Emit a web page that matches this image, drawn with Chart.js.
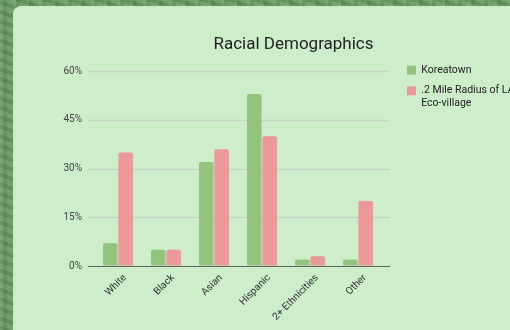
<!DOCTYPE html>
<html>
<head>
<meta charset="utf-8">
<script src="https://cdn.jsdelivr.net/npm/chart.js@4"></script>
<style>
  html, body { margin: 0; padding: 0; width: 510px; height: 330px; overflow: hidden; }
  body {
    position: relative;
    background:
      repeating-linear-gradient(90deg, rgba(255,255,255,0.06) 0 3px, rgba(0,0,0,0.07) 3px 7px, rgba(255,255,255,0) 7px 13px),
      repeating-linear-gradient(20deg, rgba(0,0,0,0.08) 0 4px, rgba(255,255,255,0.05) 4px 9px),
      #6b9c67;
  }
  #panel {
    position: absolute; left: 13px; top: 6px; width: 620px; height: 420px;
    background: #cdedcb; border-radius: 8px;
  }
  #graph1 { position: absolute; left: 0; top: 0; }
</style>
</head>
<body>
<div id="panel"></div>
<canvas id="graph1" width="560" height="330"></canvas>
<script>
const categories = ["White", "Black", "Asian", "Hispanic", "2+ Ethnicities", "Other"];
const seriesNames = ["Koreatown", ".2 Mile Radius of LA Eco-village"];
const koreatown = [7, 5, 32, 53, 2, 2];
const ecoVillage = [35, 5, 36, 40, 3, 20];
const yTicks = [0, 15, 30, 45, 60];
const legendLines = [["Koreatown"], [".2 Mile Radius of LA", "Eco-village"]];

// grid lines run a little past the plot on both sides, like the original
const gridLines = {
    id: "gridLines",
    beforeDatasetsDraw(chart) {
        const ctx = chart.ctx, y = chart.scales.y, a = chart.chartArea;
        ctx.save();
        yTicks.forEach(v => {
            const py = Math.round(y.getPixelForValue(v)) + 0.5;
            ctx.beginPath();
            ctx.strokeStyle = v === 0 ? "#5f655e" : "#c9d3c5";
            ctx.lineWidth = v === 0 ? 1.2 : 1.5;
            ctx.moveTo(a.left - 6, py);
            ctx.lineTo(a.right + 8, py);
            ctx.stroke();
        });
        ctx.restore();
    }
};

Chart.defaults.font.family = "Roboto";

new Chart(document.getElementById("graph1"), {
    type: "bar",
    data: {
        labels: categories,
        datasets: [
            {
                label: seriesNames[0],
                backgroundColor: "#93c47d",
                data: koreatown,
                borderRadius: 2,
                barPercentage: 0.95,
                categoryPercentage: 0.64
            },
            {
                label: seriesNames[1],
                backgroundColor: "#ea9999",
                data: ecoVillage,
                borderRadius: 2,
                barPercentage: 0.95,
                categoryPercentage: 0.64
            }
        ]
    },
    options: {
        responsive: false,
        animation: false,
        layout: { padding: { left: 63, right: 36, top: 0, bottom: 0 } },
        plugins: {
            title: {
                display: true,
                text: "Racial Demographics",
                color: "#222",
                font: { size: 17, weight: "normal" },
                padding: { top: 34.6, bottom: 0 }
            },
            legend: {
                position: "right",
                align: "start",
                fullSize: false,
                maxWidth: 127,
                labels: {
                    boxWidth: 9,
                    boxHeight: 9,
                    padding: 10,
                    color: "#222",
                    font: { size: 10.5, lineHeight: 1.24 },
                    generateLabels(chart) {
                        const items = Chart.defaults.plugins.legend.labels.generateLabels(chart);
                        items.forEach((it, i) => {
                            it.text = legendLines[i].length > 1 ? legendLines[i] : legendLines[i][0];
                            it.lineWidth = 0;
                        });
                        return items;
                    }
                }
            },
            tooltip: { enabled: false }
        },
        scales: {
            x: {
                grid: { display: false, drawTicks: false },
                border: { display: false },
                ticks: {
                    autoSkip: false,
                    maxRotation: 45,
                    minRotation: 45,
                    padding: 6,
                    labelOffset: 7,
                    color: "#333",
                    font: { size: 10 }
                },
                afterFit(s) { s.height = 64; }
            },
            y: {
                min: 0,
                max: 65,
                grid: { drawOnChartArea: false, drawTicks: true, tickLength: 11.6, color: "rgba(0,0,0,0)" },
                border: { display: false },
                ticks: {
                    stepSize: 15,
                    padding: 0.4,
                    color: "#444",
                    font: { size: 10 },
                    callback: v => v + "%"
                },
                afterBuildTicks(s) {
                    s.ticks = yTicks.map(v => ({ value: v }));
                }
            },
            yR: {
                position: "right",
                grid: { display: false, drawTicks: false },
                border: { display: false },
                ticks: { display: false },
                afterFit(s) { s.width = 15; }
            }
        }
    },
    plugins: [gridLines]
});
</script>
</body>
</html>
